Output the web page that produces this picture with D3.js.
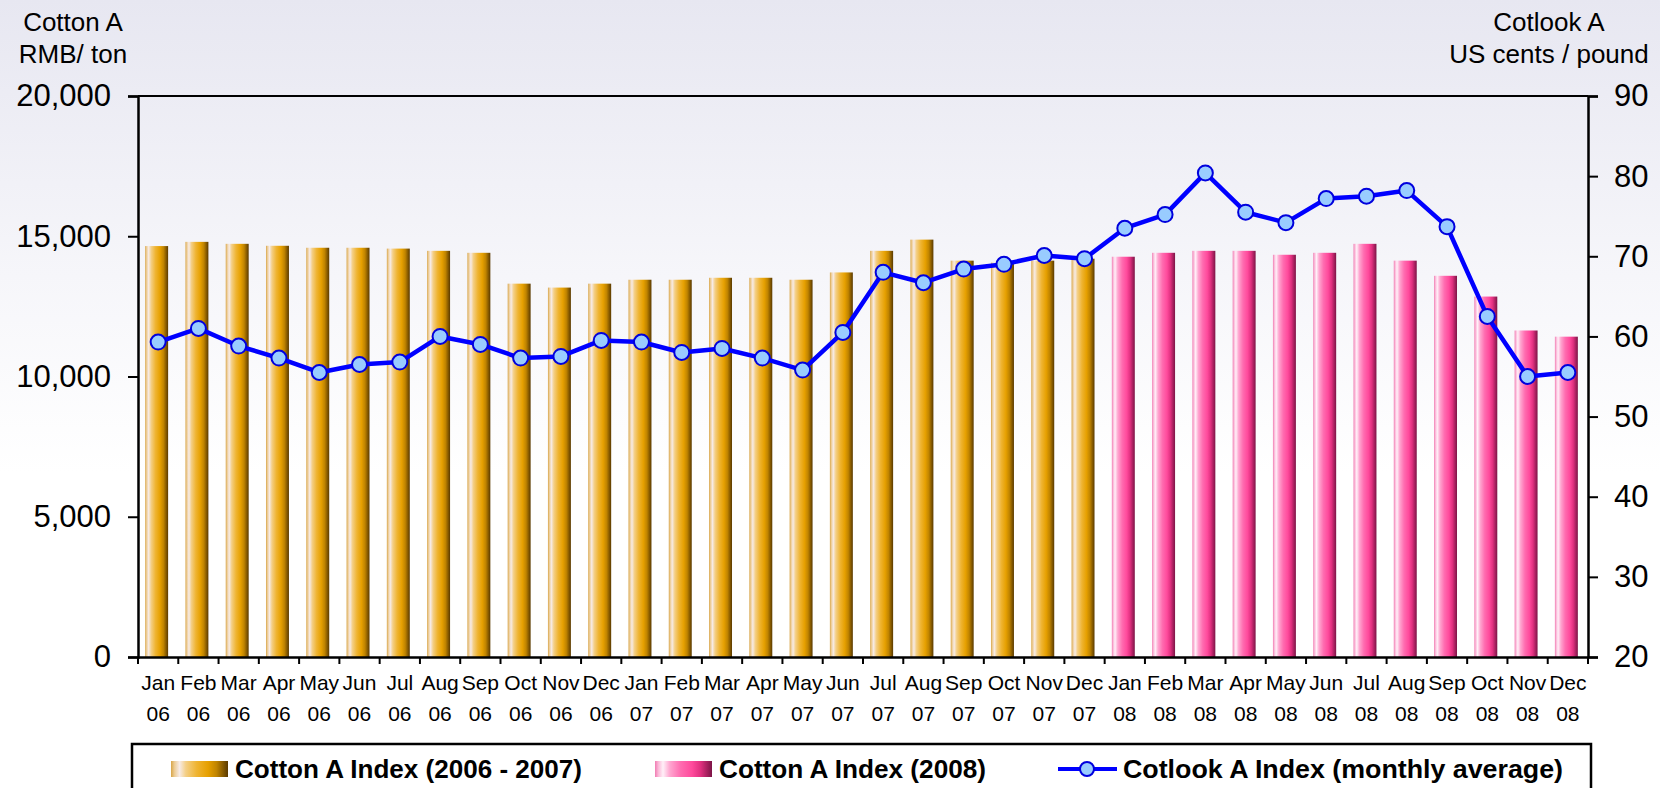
<!DOCTYPE html>
<html>
<head>
<meta charset="utf-8">
<script src="https://cdn.jsdelivr.net/npm/d3@7"></script>
<style>
  html, body { margin: 0; padding: 0; background: #fff; }
  svg { display: block; font-family: "Liberation Sans", Arial, Helvetica, sans-serif; }
</style>
</head>
<body>
<svg id="chart" width="1660" height="788"></svg>
<script>
// ---------------- DATA ----------------
const months = ["Jan","Feb","Mar","Apr","May","Jun","Jul","Aug","Sep","Oct","Nov","Dec",
                "Jan","Feb","Mar","Apr","May","Jun","Jul","Aug","Sep","Oct","Nov","Dec",
                "Jan","Feb","Mar","Apr","May","Jun","Jul","Aug","Sep","Oct","Nov","Dec"];
const years = ["06","06","06","06","06","06","06","06","06","06","06","06",
               "07","07","07","07","07","07","07","07","07","07","07","07",
               "08","08","08","08","08","08","08","08","08","08","08","08"];
// Cotton A Index (RMB/ton), 2006 - 2007
const cottonA0607 = [14650,14800,14730,14660,14590,14590,14560,14480,14410,13310,13170,13310,
                     13450,13450,13520,13520,13450,13710,14480,14880,14130,14060,14130,14200];
// Cotton A Index (RMB/ton), 2008
const cottonA08 = [14270,14410,14480,14480,14340,14410,14730,14130,13590,12850,11640,11420];
// Cotlook A Index (US cents / pound), monthly average
const cotlook = [59.3,61.0,58.8,57.3,55.5,56.5,56.8,60.0,59.0,57.3,57.5,59.5,
                 59.3,58.0,58.5,57.3,55.8,60.5,68.0,66.7,68.4,69.0,70.1,69.7,
                 73.5,75.2,80.4,75.5,74.2,77.2,77.5,78.2,73.7,62.5,55.0,55.5];
const leftTicks = [0,5000,10000,15000,20000];
const rightTicks = [20,30,40,50,60,70,80,90];
const seriesNames = ["Cotton A Index (2006 - 2007)","Cotton A Index (2008)","Cotlook A Index (monthly average)"];
const leftTitle = ["Cotton A","RMB/ ton"];
const rightTitle = ["Cotlook A","US cents / pound"];

// ---------------- LAYOUT ----------------
const W = 1660, H = 788;
const plot = {left: 138, right: 1588, top: 96, bottom: 657};
const svg = d3.select("#chart");

const cats = months.map((m,i) => m + " " + years[i]);
const barData = cats.map((c,i) => ({
  cat: c,
  value: i < cottonA0607.length ? cottonA0607[i] : cottonA08[i - cottonA0607.length],
  group: i < cottonA0607.length ? 0 : 1
}));

const x = d3.scaleBand().domain(cats).range([plot.left, plot.right]).padding(0);
const yL = d3.scaleLinear().domain([0,20000]).range([plot.bottom, plot.top]);
const yR = d3.scaleLinear().domain([20,90]).range([plot.bottom, plot.top]);
const barW = x.step() * 0.57;
const barOff = (x.step() - barW) / 2 - 1.5;

// ---------------- DEFS ----------------
const defs = svg.append("defs");
const bg = defs.append("linearGradient").attr("id","bg").attr("x1",0).attr("y1",0).attr("x2",0).attr("y2",1);
bg.append("stop").attr("offset","0%").attr("stop-color","#e7e7f1");
bg.append("stop").attr("offset","35%").attr("stop-color","#f6f6fa");
bg.append("stop").attr("offset","60%").attr("stop-color","#ffffff");
bg.append("stop").attr("offset","100%").attr("stop-color","#ffffff");

function barGrad(id, stops) {
  const g = defs.append("linearGradient").attr("id", id).attr("x1",0).attr("y1",0).attr("x2",1).attr("y2",0);
  stops.forEach(s => g.append("stop").attr("offset", s[0]).attr("stop-color", s[1]));
}
barGrad("gold", [["0%","#d8a548"],["6%","#eccb94"],["15%","#f7ebe6"],["26%","#f4cf86"],["45%","#efb432"],["65%","#e6a000"],["80%","#c08400"],["100%","#5a3a00"]]);
barGrad("pink", [["0%","#f07cb2"],["6%","#fbb8d8"],["14%","#fff0f8"],["26%","#ffa6d0"],["45%","#ff6cb0"],["65%","#ff4a9c"],["80%","#e0307f"],["100%","#7c1446"]]);

// ---------------- BACKGROUND ----------------
svg.append("rect").attr("x",0).attr("y",0).attr("width",W).attr("height",H).attr("fill","url(#bg)");

// ---------------- BARS ----------------
svg.append("g").selectAll("rect").data(barData).join("rect")
  .attr("x", d => x(d.cat) + barOff)
  .attr("y", d => yL(d.value))
  .attr("width", barW)
  .attr("height", d => yL(0) - yL(d.value))
  .attr("fill", d => d.group === 0 ? "url(#gold)" : "url(#pink)");

// ---------------- FRAME / AXES ----------------
svg.append("line").attr("x1",plot.left).attr("x2",plot.right).attr("y1",plot.top).attr("y2",plot.top)
  .attr("stroke","#000").attr("stroke-width",2);

const axL = svg.append("g").attr("transform",`translate(${plot.left},0)`)
  .call(d3.axisLeft(yL).tickValues(leftTicks).tickSize(10).tickPadding(17).tickFormat(d3.format(",")));
const axR = svg.append("g").attr("transform",`translate(${plot.right},0)`)
  .call(d3.axisRight(yR).tickValues(rightTicks).tickSize(10).tickPadding(16));
[axL, axR].forEach(a => {
  a.select(".domain").attr("stroke","#000").attr("stroke-width",2.5);
  a.selectAll(".tick line").attr("stroke","#000").attr("stroke-width",2);
  a.selectAll(".tick text").attr("fill","#000").style("font-size","31px")
    .style("font-family","'Liberation Sans', Arial, sans-serif");
});

// x axis
const axB = svg.append("g").attr("transform",`translate(0,${plot.bottom})`)
  .call(d3.axisBottom(x).tickSize(0).tickPadding(0));
axB.select(".domain").attr("stroke","#000").attr("stroke-width",2.5);
axB.selectAll(".tick text").each(function(d,i) {
  const t = d3.select(this);
  t.text(null).attr("y",0).attr("dy",null)
   .style("font-size","21px").attr("fill","#000")
   .style("font-family","'Liberation Sans', Arial, sans-serif");
  t.append("tspan").attr("x",0).attr("y",33).text(months[i]);
  t.append("tspan").attr("x",0).attr("y",64).text(years[i]);
});
// x ticks at category boundaries
const boundaries = cats.map(c => x(c)).concat([x(cats[cats.length-1]) + x.step()]);
svg.append("g").selectAll("line").data(boundaries).join("line")
  .attr("x1", d => d).attr("x2", d => d)
  .attr("y1", plot.bottom).attr("y2", plot.bottom + 7)
  .attr("stroke","#000").attr("stroke-width",2);

// ---------------- LINE ----------------
const lineGen = d3.line().x((d,i) => x(cats[i]) + x.step()/2).y(d => yR(d));
svg.append("path").datum(cotlook).attr("d", lineGen)
  .attr("fill","none").attr("stroke","#0000ff").attr("stroke-width",4.5).attr("stroke-linejoin","round");
svg.append("g").selectAll("circle").data(cotlook).join("circle")
  .attr("cx",(d,i) => x(cats[i]) + x.step()/2)
  .attr("cy", d => yR(d))
  .attr("r",7.5)
  .attr("fill","#99ccff").attr("stroke","#0000dd").attr("stroke-width",2);

// ---------------- AXIS TITLES ----------------
const lt = svg.append("text").attr("text-anchor","middle").style("font-size","26px").attr("fill","#000");
lt.selectAll("tspan").data(leftTitle).join("tspan").attr("x",73).attr("y",(d,i)=>31 + i*32).text(d=>d);
const rt = svg.append("text").attr("text-anchor","middle").style("font-size","26px").attr("fill","#000");
rt.selectAll("tspan").data(rightTitle).join("tspan").attr("x",1549).attr("y",(d,i)=>31 + i*32).text(d=>d);

// ---------------- LEGEND ----------------
const lg = svg.append("g");
lg.append("rect").attr("x",132).attr("y",744).attr("width",1591-132).attr("height",80)
  .attr("fill","#fff").attr("stroke","#000").attr("stroke-width",2.5);
const legendItems = [
  {type:"bar", fill:"url(#gold)", sx:171, tx:235, tw:347},
  {type:"bar", fill:"url(#pink)", sx:655, tx:719, tw:267},
  {type:"line", sx:1058, tx:1123, tw:440}
];
legendItems.forEach((it,i) => {
  if (it.type === "bar") {
    lg.append("rect").attr("x",it.sx).attr("y",761).attr("width",57).attr("height",16).attr("fill",it.fill);
  } else {
    lg.append("line").attr("x1",it.sx).attr("x2",it.sx+59).attr("y1",769).attr("y2",769)
      .attr("stroke","#0000ff").attr("stroke-width",4);
    lg.append("circle").attr("cx",it.sx+29).attr("cy",769).attr("r",7)
      .attr("fill","#99ccff").attr("stroke","#0000dd").attr("stroke-width",2);
  }
  lg.append("text").attr("x",it.tx).attr("y",778)
    .style("font-size","25.5px").style("font-weight","bold").attr("fill","#000")
    .attr("textLength",it.tw).attr("lengthAdjust","spacingAndGlyphs")
    .text(seriesNames[i]);
});
</script>
</body>
</html>
